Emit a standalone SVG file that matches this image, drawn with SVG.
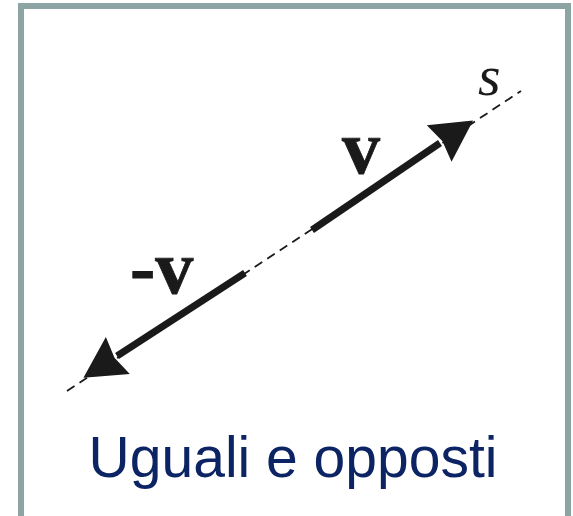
<svg xmlns="http://www.w3.org/2000/svg" width="573" height="516" viewBox="0 0 573 516">
<style>
.frame{fill:#ffffff;stroke:#8ca4a4;stroke-width:6}
.axis{stroke:#1a1a1a;stroke-width:1.8;stroke-dasharray:9 6;fill:none}
.vec{stroke:#1a1a1a;stroke-width:7;fill:none;stroke-linecap:butt}
.vlab{font-family:"Liberation Serif","Times New Roman",serif;font-weight:bold;font-size:76px;fill:#1a1a1a;stroke:#1a1a1a;stroke-width:0.8}
.slab{font-family:"Liberation Serif","Times New Roman",serif;font-style:italic;font-size:58px;fill:#1a1a1a}
.title{font-family:"Liberation Sans",Arial,sans-serif;font-size:57px;fill:#0c2463}
</style>
<defs>
<marker id="head" markerUnits="userSpaceOnUse" markerWidth="50" markerHeight="50" viewBox="0 -25 50 50" refX="0" refY="0" orient="auto" overflow="visible">
<path d="M-1,-22 L40,0 L-1,22 L3,0 z" fill="#1a1a1a"/>
</marker>
</defs>
<g id="frame">
<rect class="frame" x="21" y="6" width="547" height="530"/>
</g>
<g id="connectors">
<line id="axis-s" class="axis" x1="67" y1="391" x2="521" y2="91"/>
<line id="vec-v" class="vec" x1="312" y1="230" x2="440" y2="143" marker-end="url(#head)"/>
<line id="vec-minus-v" class="vec" x1="245" y1="273" x2="117" y2="356" marker-end="url(#head)"/>
</g>
<g id="label-v"><text class="vlab" x="342" y="173">v</text></g>
<g id="label-minus-v"><text class="vlab" x="130" y="293">-v</text></g>
<g id="label-s"><text class="slab" x="478" y="95">s</text></g>
<g id="title"><text class="title" x="293" y="477" text-anchor="middle">Uguali e opposti</text></g>
</svg>
